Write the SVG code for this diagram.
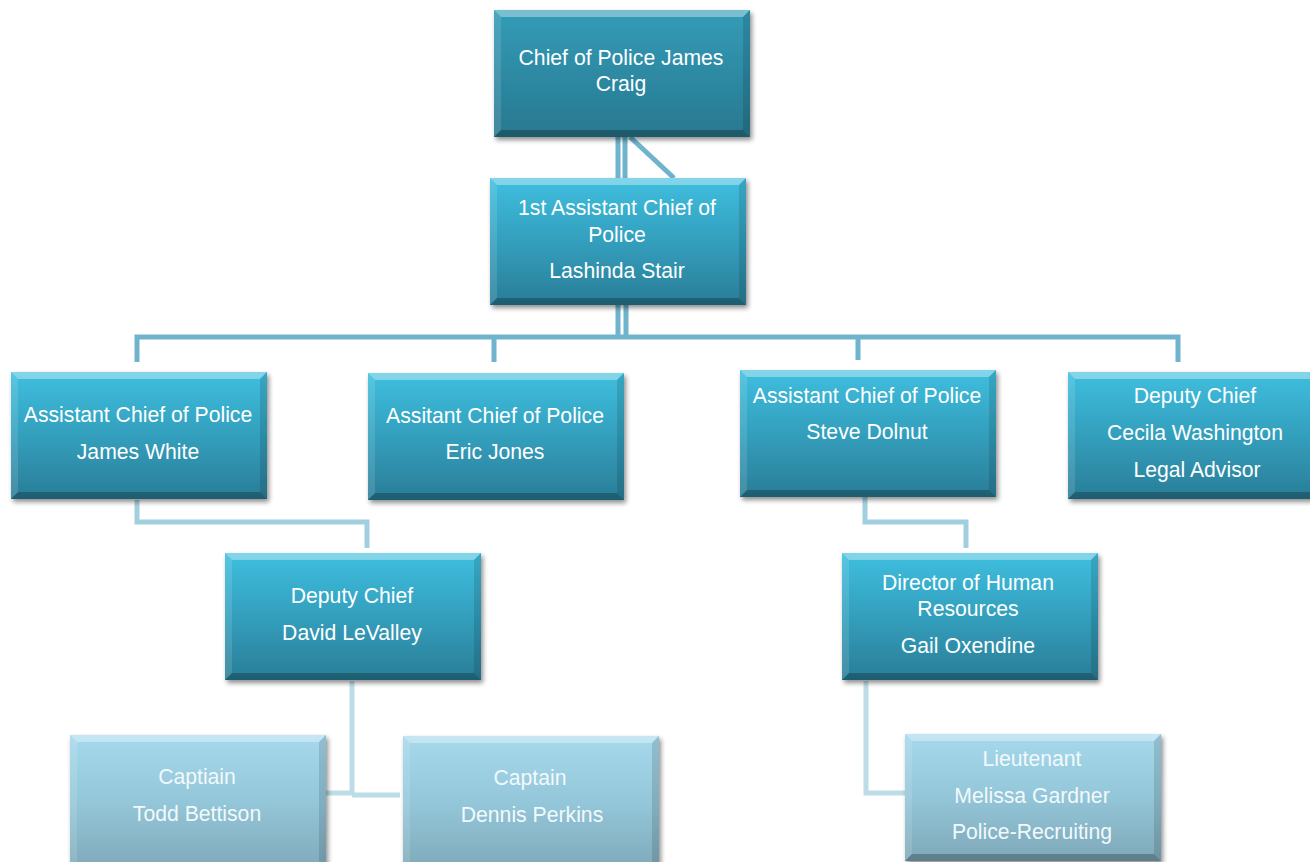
<svg xmlns="http://www.w3.org/2000/svg" xmlns:xlink="http://www.w3.org/1999/xlink" width="1310" height="862" viewBox="0 0 1310 862">
<defs>
<linearGradient id="gDark" x1="0" y1="0" x2="0" y2="1">
<stop offset="0" stop-color="#3fbfdf"/>
<stop offset="0.5" stop-color="#339fbd"/>
<stop offset="1" stop-color="#2a7d97"/>
</linearGradient>
<linearGradient id="gTop" x1="0" y1="0" x2="0" y2="1">
<stop offset="0" stop-color="#339cb8"/>
<stop offset="1" stop-color="#28788f"/>
</linearGradient>
<linearGradient id="gLight" x1="0" y1="0" x2="0" y2="1">
<stop offset="0" stop-color="#a6d9ec"/>
<stop offset="0.5" stop-color="#93c6d8"/>
<stop offset="1" stop-color="#7ea8b8"/>
</linearGradient>
<filter id="sh" x="-10%" y="-10%" width="125%" height="130%">
<feGaussianBlur in="SourceAlpha" stdDeviation="2.5"/>
<feOffset dx="2" dy="3" result="b"/>
<feComponentTransfer><feFuncA type="linear" slope="0.45"/></feComponentTransfer>
<feMerge><feMergeNode/><feMergeNode in="SourceGraphic"/></feMerge>
</filter>
<g id="bevel">
<polygon points="0,0 256,0 249,7 7,7" fill="#ffffff" fill-opacity="0.35"/>
<polygon points="0,0 7,7 7,120 0,127" fill="#ffffff" fill-opacity="0.12"/>
<polygon points="256,0 256,127 249,120 249,7" fill="#000000" fill-opacity="0.12"/>
<polygon points="0,127 256,127 249,120 7,120" fill="#000000" fill-opacity="0.25"/>
</g>
<g id="boxDark" filter="url(#sh)">
<rect x="0" y="0" width="256" height="127" fill="url(#gDark)"/>
<use xlink:href="#bevel"/>
</g>
<g id="boxTop" filter="url(#sh)">
<rect x="0" y="0" width="256" height="127" fill="url(#gTop)"/>
<use xlink:href="#bevel"/>
</g>
<g id="boxLight" filter="url(#sh)">
<rect x="0" y="0" width="256" height="127" fill="url(#gLight)"/>
<use xlink:href="#bevel"/>
</g>
<g id="boxLightTall" filter="url(#sh)">
<rect x="0" y="0" width="256" height="137" fill="url(#gLight)"/>
<polygon points="0,0 256,0 249,7 7,7" fill="#ffffff" fill-opacity="0.35"/>
<polygon points="0,0 7,7 7,137 0,137" fill="#ffffff" fill-opacity="0.12"/>
<polygon points="256,0 256,137 249,137 249,7" fill="#000000" fill-opacity="0.12"/>
</g>
</defs>
<style>
text { font-family: "Liberation Sans", "Open Sans", sans-serif; font-size: 21.2px; fill: #ffffff; text-anchor: middle; }
.lt text { fill: #f2f9fc; }
.c1 { stroke: #6fb4cc; stroke-width: 5; fill: none; }
.c2 { stroke: #a2cfdf; stroke-width: 5; fill: none; }
.c3 { stroke: #bcdde7; stroke-width: 5; fill: none; }
</style>
<rect width="1310" height="862" fill="#ffffff"/>
<g id="connectors">
<path class="c1" d="M618,137 V178 M625,137 V178 M630,137 L674,178"/>
<path class="c1" d="M618,305 V337 M626,305 V337"/>
<path class="c1" d="M137,362 V337 H1178 V362 M494,337 V362 M858,337 V360"/>
<path class="c2" d="M137,500 V522 H367 V548"/>
<path class="c2" d="M865,497 V522 H966 V548"/>
<path class="c3" d="M352,681 V795 M325,793 H352 M352,795 H400"/>
<path class="c3" d="M866,681 V793 H905"/>
</g>
<g id="chief">
<use xlink:href="#boxTop" x="494" y="10"/>
<text x="621" y="65">Chief of Police James</text>
<text x="621" y="91">Craig</text>
</g>
<g id="first-assistant">
<use xlink:href="#boxDark" x="490" y="178"/>
<text x="617" y="215">1st Assistant Chief of</text>
<text x="617" y="242">Police</text>
<text x="617" y="278">Lashinda Stair</text>
</g>
<g id="james-white">
<use xlink:href="#boxDark" x="11" y="372"/>
<text x="138" y="422">Assistant Chief of Police</text>
<text x="138" y="459">James White</text>
</g>
<g id="eric-jones">
<use xlink:href="#boxDark" x="368" y="373"/>
<text x="495" y="423">Assitant Chief of Police</text>
<text x="495" y="459">Eric Jones</text>
</g>
<g id="steve-dolnut">
<use xlink:href="#boxDark" x="740" y="370"/>
<text x="867" y="403">Assistant Chief of Police</text>
<text x="867" y="439">Steve Dolnut</text>
</g>
<g id="cecila-washington">
<use xlink:href="#boxDark" x="1068" y="372"/>
<text x="1195" y="403">Deputy Chief</text>
<text x="1195" y="440">Cecila Washington</text>
<text x="1197" y="477">Legal Advisor</text>
</g>
<g id="david-levalley">
<use xlink:href="#boxDark" x="225" y="553"/>
<text x="352" y="603">Deputy Chief</text>
<text x="352" y="640">David LeValley</text>
</g>
<g id="gail-oxendine">
<use xlink:href="#boxDark" x="842" y="553"/>
<text x="968" y="590">Director of Human</text>
<text x="968" y="616">Resources</text>
<text x="968" y="653">Gail Oxendine</text>
</g>
<g id="todd-bettison" class="lt">
<use xlink:href="#boxLightTall" x="70" y="735"/>
<text x="197" y="784">Captiain</text>
<text x="197" y="821">Todd Bettison</text>
</g>
<g id="dennis-perkins" class="lt">
<use xlink:href="#boxLightTall" x="403" y="736"/>
<text x="530" y="785">Captain</text>
<text x="532" y="822">Dennis Perkins</text>
</g>
<g id="melissa-gardner" class="lt">
<use xlink:href="#boxLight" x="905" y="734"/>
<text x="1032" y="766">Lieutenant</text>
<text x="1032" y="803">Melissa Gardner</text>
<text x="1032" y="839">Police-Recruiting</text>
</g>
</svg>
